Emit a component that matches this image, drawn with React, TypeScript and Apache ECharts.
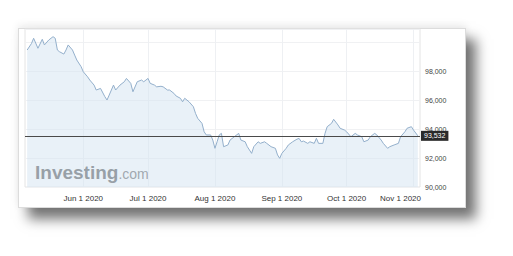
import React, { useEffect, useRef } from "react";
import * as echarts from "echarts";

const dates = [
  "2020-05-06", "2020-05-08", "2020-05-09", "2020-05-11", "2020-05-13", "2020-05-14", "2020-05-16",
  "2020-05-18", "2020-05-19", "2020-05-20", "2020-05-21", "2020-05-23", "2020-05-24", "2020-05-25",
  "2020-05-27", "2020-05-28", "2020-05-29", "2020-05-31", "2020-06-01", "2020-06-03", "2020-06-04",
  "2020-06-06", "2020-06-07", "2020-06-09", "2020-06-11", "2020-06-12", "2020-06-13", "2020-06-15",
  "2020-06-16", "2020-06-18", "2020-06-20", "2020-06-21", "2020-06-23", "2020-06-24", "2020-06-26",
  "2020-06-28", "2020-06-29", "2020-07-01", "2020-07-02", "2020-07-04", "2020-07-05", "2020-07-07",
  "2020-07-08", "2020-07-10", "2020-07-11", "2020-07-13", "2020-07-14", "2020-07-16", "2020-07-17",
  "2020-07-18", "2020-07-20", "2020-07-22", "2020-07-23", "2020-07-24", "2020-07-26", "2020-07-27",
  "2020-07-28", "2020-07-30", "2020-07-31", "2020-08-01", "2020-08-02", "2020-08-03", "2020-08-04",
  "2020-08-05", "2020-08-07", "2020-08-08", "2020-08-10", "2020-08-12", "2020-08-13", "2020-08-15",
  "2020-08-16", "2020-08-18", "2020-08-19", "2020-08-21", "2020-08-22", "2020-08-24", "2020-08-25",
  "2020-08-27", "2020-08-29", "2020-08-30", "2020-08-31", "2020-09-01", "2020-09-03", "2020-09-04",
  "2020-09-06", "2020-09-08", "2020-09-09", "2020-09-10", "2020-09-11", "2020-09-13", "2020-09-14",
  "2020-09-16", "2020-09-17", "2020-09-18", "2020-09-20", "2020-09-21", "2020-09-22", "2020-09-24",
  "2020-09-25", "2020-09-27", "2020-09-28", "2020-09-30", "2020-10-01", "2020-10-03", "2020-10-05",
  "2020-10-06", "2020-10-08", "2020-10-09", "2020-10-11", "2020-10-12", "2020-10-14", "2020-10-15",
  "2020-10-17", "2020-10-18", "2020-10-20", "2020-10-21", "2020-10-23", "2020-10-25", "2020-10-26",
  "2020-10-28", "2020-10-29", "2020-10-31", "2020-11-01", "2020-11-03",
];

const values = [
  99.45, 99.9, 100.26, 99.57, 100.19, 99.8, 100.14,
  100.37, 100.26, 99.45, 99.33, 99.17, 99.45, 99.8,
  99.45, 99.1, 98.76, 98.3, 97.95, 97.6, 97.38,
  97.03, 96.69, 96.8, 96.23, 96.0, 96.34, 97.03,
  96.69, 97.03, 97.26, 97.49, 97.15, 96.57, 97.26,
  97.38, 97.26, 97.49, 97.15, 97.03, 96.91, 96.95,
  96.91, 96.69, 96.69, 96.46, 96.28, 96.12, 95.88,
  96.12, 95.88, 95.54, 95.08, 94.74, 94.39, 93.81,
  93.59, 93.59, 93.24, 92.67, 93.12, 93.59, 93.7,
  92.78, 92.9, 93.24, 93.47, 93.7, 93.24, 93.12,
  92.78, 92.32, 92.78, 93.12, 93.01, 93.12, 93.01,
  92.78, 92.67, 92.21, 91.98, 92.32, 92.67, 92.9,
  93.12, 93.3, 93.35, 93.12, 93.17, 93.01, 93.12,
  93.01, 93.36, 93.01, 93.01, 93.7, 94.16, 94.39,
  94.67, 94.28, 94.05, 93.93, 93.81, 93.47, 93.7,
  93.59, 93.47, 93.12, 93.24, 93.47, 93.7, 93.59,
  93.24, 93.01, 92.67, 92.78, 92.9, 93.01, 93.47,
  93.81, 94.05, 94.16, 93.93, 93.532,
];

const lastPrice = 93.532;
const monthStarts = ["2020-06-01", "2020-07-01", "2020-08-01", "2020-09-01", "2020-10-01", "2020-11-01"];
const monthLabels = ["Jun 1 2020", "Jul 1 2020", "Aug 1 2020", "Sep 1 2020", "Oct 1 2020", "Nov 1 2020"];
const xMin = "2020-05-05";
const xMax = "2020-11-04";
const yMin = 90;
const yMax = 100.9;
const yInterval = 2;

const fmt = (v: number) => v.toFixed(3).replace(".", ",");

export default function App() {
  const ref = useRef<HTMLDivElement>(null);

  useEffect(() => {
    if (!ref.current) return;
    const chart = echarts.init(ref.current, null, { renderer: "svg" });
    const pd = (s: string) => echarts.number.parseDate(s).getTime();
    const monthTs = monthStarts.map(pd);
    const labelFor = (v: number) => {
      const i = monthTs.findIndex((t) => Math.abs(t - v) < 3600000);
      if (i < 0) return "";
      if (i === monthTs.length - 1) return `{s|${monthLabels[i]}}`;
      return monthLabels[i];
    };

    chart.setOption({
      animation: false,
      grid: {
        left: 25,
        top: 29,
        width: 395,
        height: 158,
        show: true,
        borderColor: "#e4e4e4",
        borderWidth: 1,
        backgroundColor: "transparent",
      },
      xAxis: {
        type: "value",
        min: pd(xMin),
        max: pd(xMax),
        axisLine: { show: false },
        axisTick: { show: false, customValues: monthTs },
        splitLine: { show: true, lineStyle: { color: "#eef0f3", width: 1 } },
        axisLabel: {
          customValues: monthTs,
          formatter: labelFor,
          fontSize: 8,
          color: "#333",
          fontFamily: "Liberation Sans, Arial, sans-serif",
          margin: 7,
          rich: {
            s: {
              fontSize: 8,
              color: "#333",
              fontFamily: "Liberation Sans, Arial, sans-serif",
              padding: [0, 26, 0, 0],
            },
          },
        },
      },
      yAxis: {
        type: "value",
        position: "right",
        min: yMin,
        max: yMax,
        interval: yInterval,
        axisLine: { show: false },
        axisTick: { show: false },
        splitLine: { show: true, lineStyle: { color: "#f0f1f3", width: 1 } },
        axisLabel: {
          fontSize: 7,
          color: "#444",
          margin: 5,
          fontFamily: "Liberation Sans, Arial, sans-serif",
          formatter: (v: number) => (v > 99 ? "" : fmt(v)),
        },
      },
      series: [
        {
          type: "line",
          data: dates.map((d, i) => [pd(d), values[i]]),
          symbol: "none",
          lineStyle: { color: "#93afcb", width: 1 },
          areaStyle: { color: "rgba(214,228,242,0.75)", origin: "start" },
          markLine: {
            silent: true,
            symbol: "none",
            data: [{ yAxis: lastPrice }],
            lineStyle: { color: "#4a4a4a", width: 1, type: "solid" },
            label: {
              show: true,
              position: "end",
              distance: 1,
              formatter: fmt(lastPrice),
              backgroundColor: "#2a2a2a",
              color: "#fff",
              fontSize: 7,
              padding: [2, 3, 1, 3],
              fontFamily: "Liberation Sans, Arial, sans-serif",
            },
          },
        },
      ],
      graphic: [
        {
          type: "text",
          left: 35,
          top: 163,
          style: {
            text: "{a|Investing}{b|.com}",
            rich: {
              a: {
                fontSize: 19,
                fontWeight: "bold",
                fill: "#555555",
                fontFamily: "Liberation Sans, Arial, sans-serif",
              },
              b: {
                fontSize: 14,
                fill: "#666666",
                fontFamily: "Liberation Sans, Arial, sans-serif",
                padding: [3, 0, 0, 0],
              },
            },
          },
        },
      ],
    });

    return () => chart.dispose();
  }, []);

  return (
    <div style={{ position: "absolute", left: 0, top: 0, width: 513, height: 256, background: "#fff" }}>
      <div
        style={{
          position: "absolute",
          left: 18,
          top: 28,
          width: 448,
          height: 180,
          background: "#fff",
          border: "1px solid #dcdcdc",
          boxSizing: "border-box",
          boxShadow: "10px 11px 12px rgba(0,0,0,0.55), 0 -3px 8px rgba(0,0,0,0.08)",
        }}
      />
      <div ref={ref} style={{ position: "absolute", left: 0, top: 0, width: 513, height: 256 }} />
    </div>
  );
}
